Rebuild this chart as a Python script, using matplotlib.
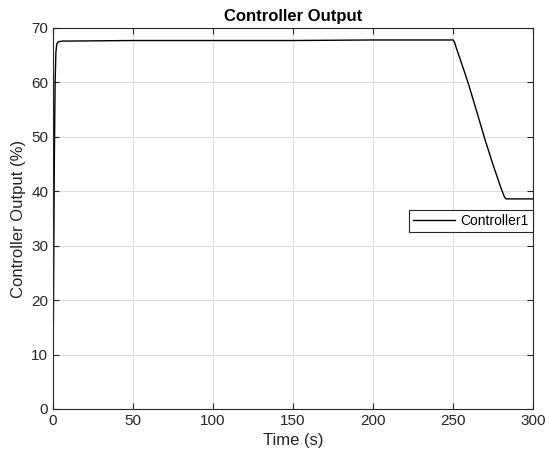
import matplotlib.pyplot as plt

# values
time_s = [0, 0.3, 0.8, 1.3, 1.8, 2.3, 3, 4, 6, 10, 50, 100, 150, 200, 240, 250,
          251, 252, 254, 257, 260, 265, 270, 275, 280, 282, 283, 290, 300]
output_pct = [5.5, 20, 45, 60, 65.5, 67.0, 67.4, 67.5, 67.6, 67.6, 67.7, 67.7, 67.7, 67.8, 67.8, 67.8,
              67.3, 66.3, 64.6, 62.0, 59.3, 54.4, 49.4, 44.8, 40.5, 39.0, 38.6, 38.6, 38.6]

plt.rcParams['font.family'] = ['Liberation Sans', 'DejaVu Sans']

fig = plt.figure(figsize=(5.5, 4.59), dpi=100)
ax = fig.add_axes([0.0964, 0.109, 0.873, 0.830])

ax.plot(time_s, output_pct, color='black', linewidth=1.0, label='Controller1')

ax.set_xlim(0, 300)
ax.set_ylim(0, 70)
ax.set_xticks(range(0, 301, 50))
ax.set_yticks(range(0, 71, 10))
ax.grid(True, color='#dedede', linewidth=0.8)
ax.tick_params(direction='in', top=True, right=True, labelsize=11, colors='#262626', length=4)
for s in ax.spines.values():
    s.set_color('#262626')
    s.set_linewidth(0.8)

ax.set_title('Controller Output', fontsize=12, fontweight='bold', pad=5)
ax.set_xlabel('Time (s)', fontsize=12, color='#262626')
ax.set_ylabel('Controller Output (%)', fontsize=12, color='#262626')

leg = ax.legend(loc='upper left', bbox_to_anchor=(0.742, 0.523), fontsize=10, fancybox=False,
                framealpha=1, edgecolor='#262626', borderpad=0.3, handlelength=3.0,
                handletextpad=0.4, borderaxespad=0)
leg.get_frame().set_linewidth(0.8)

fig.savefig('out.png', dpi=100)
